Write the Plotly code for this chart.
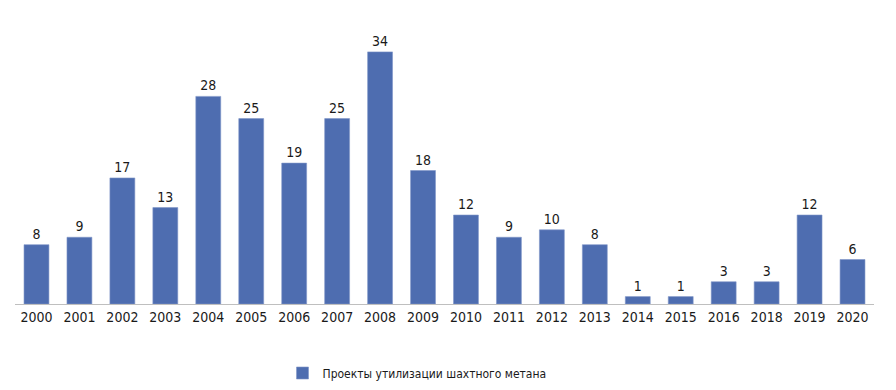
import plotly.graph_objects as go

years = ["2000", "2001", "2002", "2003", "2004", "2005", "2006", "2007", "2008", "2009",
         "2010", "2011", "2012", "2013", "2014", "2015", "2016", "2018", "2019", "2020"]
projects = [8, 9, 17, 13, 28, 25, 19, 25, 34, 18, 12, 9, 10, 8, 1, 1, 3, 3, 12, 6]
series_name = "Проекты утилизации шахтного метана"

FONT = "DejaVu Sans Condensed, Roboto, sans-serif"

fig = go.Figure()
fig.add_trace(go.Bar(
    x=years, y=projects, name=series_name,
    marker=dict(color="#4e6db0", line=dict(color="#7f95c8", width=0.6)),
    text=projects, textposition="outside", cliponaxis=False,
    textfont=dict(family=FONT, size=14, color="#1a1a1a"),
    showlegend=True,
))

fig.update_layout(
    width=888, height=382,
    margin=dict(l=7, r=22, t=12, b=86, autoexpand=False),
    paper_bgcolor="white", plot_bgcolor="white",
    bargap=0.42,
    font=dict(family=FONT, size=14, color="#1a1a1a"),
    xaxis=dict(type="category", showline=True, linecolor="#bfbfbf", linewidth=1,
               ticks="", showgrid=False, automargin=False,
               tickfont=dict(family=FONT, size=14, color="#1a1a1a")),
    yaxis=dict(range=[0, 38.3], visible=False, showgrid=False, automargin=False),
    legend=dict(orientation="h", x=0.468, xanchor="center", y=-0.243, yanchor="middle",
                font=dict(family=FONT, size=12, color="#1a1a1a")),
)

fig.write_html("out.html")
